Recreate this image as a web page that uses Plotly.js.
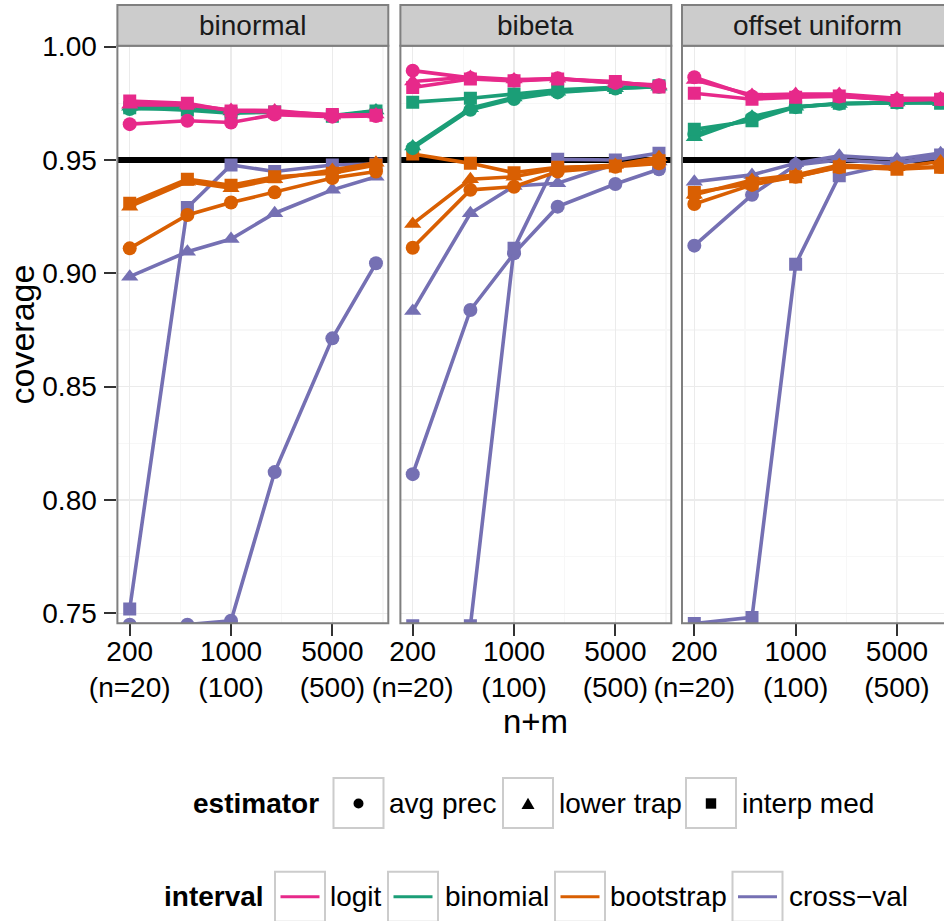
<!DOCTYPE html>
<html>
<head>
<meta charset="utf-8">
<script src="https://cdn.plot.ly/plotly-3.0.1.min.js"></script>
<style>
  html, body { margin: 0; padding: 0; background: #ffffff; }
  #chart { width: 944px; height: 921px; }
</style>
</head>
<body>
<div id="chart"></div>
<script>
// ---- data ---------------------------------------------------------------
const sampleSizes = [200, 500, 1000, 2000, 5000, 10000];   // n+m
const panels = ['binormal', 'bibeta', 'offset uniform'];
const intervals = ['logit', 'binomial', 'bootstrap', 'cross\u2212val'];
const estimators = ['avg prec', 'lower trap', 'interp med'];
const nominalLevel = 0.95;

const xTickVals = [200, 1000, 5000];
const xTickTop = ['200', '1000', '5000'];
const xTickBottom = ['(n=20)', '(100)', '(500)'];
const xMinorVals = [447.2, 2236, 11180];
const yTickVals = [0.75, 0.80, 0.85, 0.90, 0.95, 1.00];
const yTickText = ['0.75', '0.80', '0.85', '0.90', '0.95', '1.00'];
const yMinorVals = [0.775, 0.825, 0.875, 0.925, 0.975];

// binormal
const binormalLogitAvgPrec      = [0.9658, 0.9673, 0.9665, 0.9700, 0.9691, 0.9694];
const binormalLogitLowerTrap    = [0.9743, 0.9743, 0.9720, 0.9718, 0.9696, 0.9700];
const binormalLogitInterpMed    = [0.9760, 0.9750, 0.9716, 0.9712, 0.9700, 0.9697];
const binormalBinomialAvgPrec   = [0.9725, 0.9728, 0.9710, 0.9710, 0.9694, 0.9714];
const binormalBinomialLowerTrap = [0.9735, 0.9732, 0.9714, 0.9712, 0.9696, 0.9718];
const binormalBinomialInterpMed = [0.9730, 0.9720, 0.9706, 0.9712, 0.9693, 0.9716];
const binormalBootAvgPrec       = [0.9110, 0.9257, 0.9312, 0.9357, 0.9420, 0.9449];
const binormalBootLowerTrap     = [0.9294, 0.9404, 0.9375, 0.9415, 0.9456, 0.9488];
const binormalBootInterpMed     = [0.9309, 0.9415, 0.9388, 0.9426, 0.9441, 0.9478];
const binormalCvAvgPrec         = [0.7450, 0.7450, 0.7467, 0.8123, 0.8713, 0.9044];
const binormalCvLowerTrap       = [0.8985, 0.9095, 0.9151, 0.9265, 0.9368, 0.9426];
const binormalCvInterpMed       = [0.7519, 0.9290, 0.9478, 0.9449, 0.9478, 0.9482];

// bibeta
const bibetaLogitAvgPrec        = [0.9894, 0.9862, 0.9850, 0.9860, 0.9840, 0.9830];
const bibetaLogitLowerTrap      = [0.9846, 0.9866, 0.9855, 0.9858, 0.9840, 0.9828];
const bibetaLogitInterpMed      = [0.9820, 0.9857, 0.9849, 0.9857, 0.9846, 0.9822];
const bibetaBinomialAvgPrec     = [0.9552, 0.9721, 0.9769, 0.9798, 0.9815, 0.9823];
const bibetaBinomialLowerTrap   = [0.9559, 0.9728, 0.9776, 0.9801, 0.9816, 0.9823];
const bibetaBinomialInterpMed   = [0.9755, 0.9772, 0.9791, 0.9809, 0.9820, 0.9827];
const bibetaBootAvgPrec         = [0.9113, 0.9368, 0.9382, 0.9449, 0.9470, 0.9485];
const bibetaBootLowerTrap       = [0.9218, 0.9415, 0.9426, 0.9463, 0.9478, 0.9512];
const bibetaBootInterpMed       = [0.9526, 0.9485, 0.9444, 0.9468, 0.9473, 0.9497];
const bibetaCvAvgPrec           = [0.8114, 0.8838, 0.9088, 0.9294, 0.9394, 0.9459];
const bibetaCvLowerTrap         = [0.8834, 0.9265, 0.9385, 0.9397, 0.9482, 0.9493];
const bibetaCvInterpMed         = [0.7445, 0.7445, 0.9110, 0.9503, 0.9500, 0.9530];

// offset uniform
const offsetLogitAvgPrec        = [0.9865, 0.9780, 0.9780, 0.9780, 0.9765, 0.9768];
const offsetLogitLowerTrap      = [0.9853, 0.9787, 0.9791, 0.9791, 0.9772, 0.9772];
const offsetLogitInterpMed      = [0.9794, 0.9768, 0.9777, 0.9782, 0.9762, 0.9768];
const offsetBinomialAvgPrec     = [0.9615, 0.9684, 0.9733, 0.9748, 0.9753, 0.9755];
const offsetBinomialLowerTrap   = [0.9600, 0.9691, 0.9735, 0.9747, 0.9753, 0.9755];
const offsetBinomialInterpMed   = [0.9635, 0.9673, 0.9733, 0.9750, 0.9753, 0.9750];
const offsetBootAvgPrec         = [0.9306, 0.9390, 0.9426, 0.9468, 0.9465, 0.9470];
const offsetBootLowerTrap       = [0.9346, 0.9412, 0.9434, 0.9478, 0.9468, 0.9493];
const offsetBootInterpMed       = [0.9356, 0.9397, 0.9426, 0.9470, 0.9459, 0.9468];
const offsetCvAvgPrec           = [0.9122, 0.9346, 0.9478, 0.9500, 0.9485, 0.9512];
const offsetCvLowerTrap         = [0.9404, 0.9434, 0.9485, 0.9518, 0.9503, 0.9530];
const offsetCvInterpMed         = [0.7455, 0.7482, 0.9040, 0.9430, 0.9485, 0.9522];

// panel -> interval -> [avg prec, lower trap, interp med]
const coverage = {
  'binormal': [
    [binormalLogitAvgPrec, binormalLogitLowerTrap, binormalLogitInterpMed],
    [binormalBinomialAvgPrec, binormalBinomialLowerTrap, binormalBinomialInterpMed],
    [binormalBootAvgPrec, binormalBootLowerTrap, binormalBootInterpMed],
    [binormalCvAvgPrec, binormalCvLowerTrap, binormalCvInterpMed]
  ],
  'bibeta': [
    [bibetaLogitAvgPrec, bibetaLogitLowerTrap, bibetaLogitInterpMed],
    [bibetaBinomialAvgPrec, bibetaBinomialLowerTrap, bibetaBinomialInterpMed],
    [bibetaBootAvgPrec, bibetaBootLowerTrap, bibetaBootInterpMed],
    [bibetaCvAvgPrec, bibetaCvLowerTrap, bibetaCvInterpMed]
  ],
  'offset uniform': [
    [offsetLogitAvgPrec, offsetLogitLowerTrap, offsetLogitInterpMed],
    [offsetBinomialAvgPrec, offsetBinomialLowerTrap, offsetBinomialInterpMed],
    [offsetBootAvgPrec, offsetBootLowerTrap, offsetBootInterpMed],
    [offsetCvAvgPrec, offsetCvLowerTrap, offsetCvInterpMed]
  ]
};

// ---- styling ------------------------------------------------------------
const intervalColors = ['#E7298A', '#1B9E77', '#D95F02', '#7570B3'];
const estimatorSymbols = ['circle', 'triangle-up', 'square'];
const estimatorSizes = [14, 15, 13];
const FONT = '"Liberation Sans", Arial, Helvetica, sans-serif';
const W = 944, H = 921;
const fx = p => p / W;          // pixel -> paper x
const fy = p => 1 - p / H;      // pixel -> paper y

const panelLeft = [117.4, 400.4, 682];
const panelRight = [388.3, 671.3, 953];
const panelTop = 45.7, panelBottom = 623.3, stripTop = 5;
const xRangeFull = [2.216, 4.085];
const yRange = [0.7456, 1.0004];
const pxPerDecade = (panelRight[0] - panelLeft[0]) / (xRangeFull[1] - xRangeFull[0]);

function panelXRange(p) {
  return p === 2
    ? [xRangeFull[0], xRangeFull[0] + (W - panelLeft[p]) / pxPerDecade]
    : xRangeFull.slice();
}

// ---- traces -------------------------------------------------------------
const traces = [];
panels.forEach((panel, p) => {
  const xa = p === 0 ? 'x' : 'x' + (p + 1);
  const ya = p === 0 ? 'y' : 'y' + (p + 1);
  const xr = panelXRange(p);
  // nominal coverage reference line across the whole panel, under the data
  traces.push({
    type: 'scatter', mode: 'lines',
    x: [Math.pow(10, xr[0]), Math.pow(10, xr[1])],
    y: [nominalLevel, nominalLevel],
    xaxis: xa, yaxis: ya, showlegend: false, hoverinfo: 'skip',
    line: { color: '#000000', width: 6 }
  });
  // later intervals first so logit ends up on top
  for (let i = intervals.length - 1; i >= 0; i--) {
    estimators.forEach((est, e) => {
      traces.push({
        type: 'scatter',
        mode: 'lines+markers',
        x: sampleSizes,
        y: coverage[panel][i][e],
        xaxis: xa, yaxis: ya,
        name: intervals[i] + ', ' + est,
        showlegend: false,
        line: { color: intervalColors[i], width: 3.6 },
        marker: { color: intervalColors[i], symbol: estimatorSymbols[e], size: estimatorSizes[e], line: { width: 0 } },
        cliponaxis: true
      });
    });
  }
});

// ---- axes ---------------------------------------------------------------
const layout = {
  width: W, height: H,
  margin: { l: 0, r: 0, t: 0, b: 0 },
  paper_bgcolor: '#ffffff',
  plot_bgcolor: '#ffffff',
  font: { family: FONT, color: '#000000', size: 28 },
  showlegend: false,
  shapes: [],
  annotations: []
};

panels.forEach((panel, p) => {
  const suffix = p === 0 ? '' : String(p + 1);
  const domainRight = Math.min(1, fx(panelRight[p]));
  layout['xaxis' + suffix] = {
    type: 'log',
    domain: [fx(panelLeft[p]), domainRight],
    range: panelXRange(p),
    anchor: 'y' + suffix,
    tickmode: 'array',
    tickvals: xTickVals,
    ticktext: xTickTop.map((t, k) => t + '<br>' + xTickBottom[k]),
    ticks: 'outside', ticklen: 12, tickwidth: 2, tickcolor: '#333333',
    ticklabelstandoff: -9,
    tickfont: { family: FONT, size: 28, color: '#000000' },
    showgrid: true, gridcolor: '#EBEBEB', gridwidth: 1.5,
    minor: { tickmode: 'array', tickvals: xMinorVals, showgrid: true, gridcolor: '#F7F7F7', gridwidth: 1.5, ticks: '' },
    zeroline: false, showline: false, fixedrange: true
  };
  layout['yaxis' + suffix] = {
    domain: [fy(panelBottom), fy(panelTop)],
    range: yRange,
    anchor: 'x' + suffix,
    tickmode: 'array',
    tickvals: yTickVals,
    ticktext: yTickText,
    ticks: p === 0 ? 'outside' : '',
    ticklen: 12, tickwidth: 2, tickcolor: '#333333',
    ticklabelstandoff: 2,
    showticklabels: p === 0,
    tickfont: { family: FONT, size: 28, color: '#000000' },
    showgrid: true, gridcolor: '#EBEBEB', gridwidth: 1.5,
    minor: { tickmode: 'array', tickvals: yMinorVals, showgrid: true, gridcolor: '#F7F7F7', gridwidth: 1.5, ticks: '' },
    zeroline: false, showline: false, fixedrange: true
  };

  const xdom = 'x' + suffix + ' domain';
  const ydom = 'y' + suffix + ' domain';
  const borderRight = (panelRight[p] - panelLeft[p]) / (W * domainRight - panelLeft[p]);

  // panel border
  layout.shapes.push({
    type: 'rect', layer: 'above',
    xref: xdom, x0: 0, x1: borderRight,
    yref: ydom, y0: 0, y1: 1,
    line: { color: '#7F7F7F', width: 2 }, fillcolor: 'rgba(0,0,0,0)'
  });
  // facet strip
  layout.shapes.push({
    type: 'rect', layer: 'above',
    xref: xdom, x0: 0, x1: borderRight,
    yref: 'paper', y0: fy(panelTop), y1: fy(stripTop),
    line: { color: '#7F7F7F', width: 2 }, fillcolor: '#CCCCCC'
  });
  layout.annotations.push({
    xref: xdom, x: borderRight / 2,
    yref: 'paper', y: fy((panelTop + stripTop) / 2),
    text: panel, showarrow: false,
    xanchor: 'center', yanchor: 'middle',
    font: { family: FONT, size: 28, color: '#1A1A1A' }
  });
});

// axis titles
layout.annotations.push({
  xref: 'paper', x: fx(22), yref: 'paper', y: fy((panelTop + panelBottom) / 2),
  text: 'coverage', textangle: -90, showarrow: false,
  xanchor: 'center', yanchor: 'middle',
  font: { family: FONT, size: 34, color: '#000000' }
});
layout.annotations.push({
  xref: 'paper', x: fx((panelLeft[0] + panelRight[2]) / 2), yref: 'paper', y: fy(721),
  text: 'n+m', showarrow: false,
  xanchor: 'center', yanchor: 'middle',
  font: { family: FONT, size: 33, color: '#000000' }
});

// ---- legends ------------------------------------------------------------
function legendText(txt, left, cy, bold) {
  layout.annotations.push({
    xref: 'paper', x: fx(left), yref: 'paper', y: fy(cy),
    text: bold ? '<b>' + txt + '</b>' : txt, showarrow: false,
    xanchor: 'left', yanchor: 'middle',
    font: { family: FONT, size: 28, color: '#000000' }
  });
}
function legendBox(x0, y0, size) {
  layout.shapes.push({
    type: 'rect', xref: 'paper', yref: 'paper',
    x0: fx(x0), x1: fx(x0 + size), y0: fy(y0 + size), y1: fy(y0),
    line: { color: '#CCCCCC', width: 2 }, fillcolor: '#ffffff'
  });
}

// estimator (shape) legend
const estRowTop = 778, estRowMid = 803.5;
const estBoxLeft = [333.5, 503, 686];
const estLabelLeft = [387, 557, 740];
legendText('estimator', 191, estRowMid, true);
estimators.forEach((est, e) => {
  legendBox(estBoxLeft[e], estRowTop, 50);
  const cx = estBoxLeft[e] + 25, cy = estRowMid;
  if (estimatorSymbols[e] === 'circle') {
    layout.shapes.push({ type: 'circle', xref: 'paper', yref: 'paper',
      x0: fx(cx - 5), x1: fx(cx + 5), y0: fy(cy + 5), y1: fy(cy - 5),
      fillcolor: '#000000', line: { width: 0 } });
  } else if (estimatorSymbols[e] === 'triangle-up') {
    layout.shapes.push({ type: 'path', xref: 'paper', yref: 'paper',
      path: 'M ' + fx(cx - 6.5) + ' ' + fy(cy + 5.5) + ' L ' + fx(cx + 6.5) + ' ' + fy(cy + 5.5) +
            ' L ' + fx(cx) + ' ' + fy(cy - 5.8) + ' Z',
      fillcolor: '#000000', line: { width: 0 } });
  } else {
    layout.shapes.push({ type: 'rect', xref: 'paper', yref: 'paper',
      x0: fx(cx - 5.2), x1: fx(cx + 5.2), y0: fy(cy + 5.2), y1: fy(cy - 5.2),
      fillcolor: '#000000', line: { width: 0 } });
  }
  legendText(est, estLabelLeft[e], estRowMid, false);
});

// interval (colour) legend
const intRowTop = 871.7, intRowMid = 896.7;
const intBoxLeft = [275, 388, 555, 732.5];
const intLabelLeft = [328, 443, 608, 787];
legendText('interval', 162, intRowMid, true);
intervals.forEach((name, i) => {
  legendBox(intBoxLeft[i], intRowTop, 50);
  layout.shapes.push({ type: 'line', xref: 'paper', yref: 'paper',
    x0: fx(intBoxLeft[i] + 5.5), x1: fx(intBoxLeft[i] + 44.5),
    y0: fy(intRowMid), y1: fy(intRowMid),
    line: { color: intervalColors[i], width: 3 } });
  legendText(name, intLabelLeft[i], intRowMid, false);
});

Plotly.newPlot('chart', traces, layout, { staticPlot: true, displayModeBar: false });
</script>
</body>
</html>
